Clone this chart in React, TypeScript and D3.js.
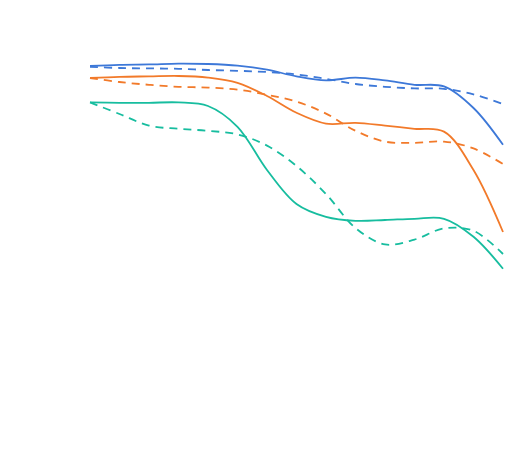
import React from 'react';
import * as d3 from 'd3';

const categories = ['P1', 'P2', 'P3', 'P4', 'P5', 'P6', 'P7', 'P8', 'P9', 'P10', 'P11', 'P12', 'P13', 'P14', 'P15'];

const blueSolid = [93.5, 93.8, 93.9, 94.1, 94.0, 93.6, 92.6, 90.9, 89.9, 90.6, 89.9, 88.8, 88.4, 83.0, 73.8];
const blueDashed = [93.3, 93.0, 92.9, 92.8, 92.5, 92.3, 92.0, 91.4, 90.3, 89.0, 88.3, 87.9, 87.8, 86.4, 84.0];
const orangeSolid = [90.5, 90.8, 90.9, 91.0, 90.6, 89.3, 86.0, 81.8, 79.1, 79.3, 78.6, 77.8, 77.1, 67.5, 52.0];
const orangeDashed = [90.5, 89.5, 88.8, 88.3, 88.1, 87.6, 86.3, 84.6, 81.6, 77.3, 74.6, 74.3, 74.6, 72.9, 69.0];
const tealSolid = [84.4, 84.3, 84.3, 84.4, 83.5, 78.3, 67.5, 59.0, 55.8, 54.8, 55.0, 55.3, 55.3, 50.8, 42.8];
const tealDashed = [84.4, 81.5, 78.6, 77.8, 77.3, 76.4, 73.6, 68.5, 61.5, 53.0, 48.9, 50.1, 52.9, 52.3, 46.5];

const width = 505;
const height = 453;
const margin = { top: 40, right: 2, bottom: 13, left: 90 };

const series = [
  { name: 'blue', values: blueSolid, color: '#3d78d8', dashed: false },
  { name: 'blue-dash', values: blueDashed, color: '#3d78d8', dashed: true },
  { name: 'orange', values: orangeSolid, color: '#f27a2a', dashed: false },
  { name: 'orange-dash', values: orangeDashed, color: '#f27a2a', dashed: true },
  { name: 'teal', values: tealSolid, color: '#17bd9f', dashed: false },
  { name: 'teal-dash', values: tealDashed, color: '#17bd9f', dashed: true },
];

export default function App() {
  const x = d3.scalePoint<string>()
    .domain(categories)
    .range([margin.left, width - margin.right]);

  const y = d3.scaleLinear()
    .domain([0, 100])
    .range([height - margin.bottom, margin.top]);

  const line = d3.line<number>()
    .x((_, i) => x(categories[i]) as number)
    .y(d => y(d))
    .curve(d3.curveCatmullRom.alpha(0.5));

  return (
    <svg
      width={width}
      height={height}
      style={{ position: 'absolute', left: 0, top: 0, background: '#fff' }}
    >
      {series.map(s => (
        <path
          key={s.name}
          d={line(s.values) || ''}
          fill="none"
          stroke={s.color}
          strokeWidth={1.8}
          strokeDasharray={s.dashed ? '8,6' : undefined}
        />
      ))}
    </svg>
  );
}
